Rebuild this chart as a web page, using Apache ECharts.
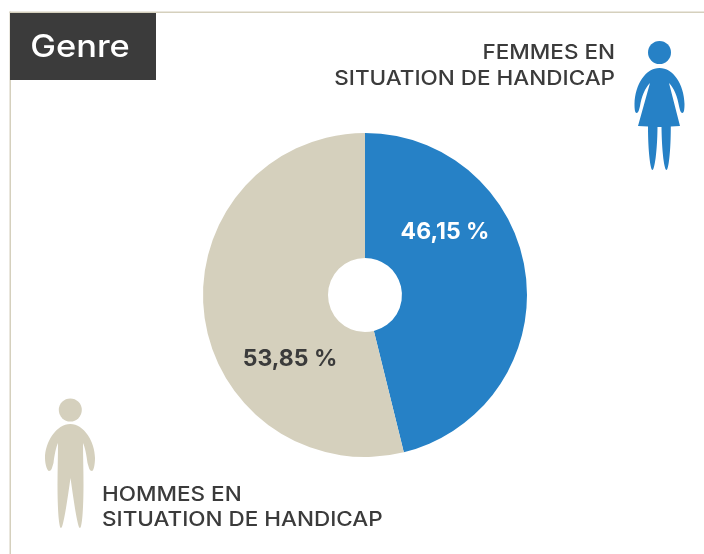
<!DOCTYPE html>
<html>
<head>
<meta charset="utf-8">
<style>html,body{margin:0;padding:0;background:#fff}#c{width:704px;height:554px}</style>
<script src="https://cdn.jsdelivr.net/npm/echarts@6/dist/echarts.min.js"></script>
</head>
<body>
<div id="c"></div>
<script>
const categories = ['Femmes en situation de handicap', 'Hommes en situation de handicap'];
const values = [46.15, 53.85];
const colors = ['#2681c6', '#d5d0bd'];
const labelColors = ['#ffffff', '#3b3b3b'];
const labelSpots = [[445, 232], [290, 359]];
const FONT = 'Inter, "DejaVu Sans", sans-serif';
const frame = '#d5d0bd';
const dark = '#3b3b3b';

const woman = 'M659.5 68 C673 68 684 84 684.5 104 C684.5 109 684 113 682.5 113 C680.5 113 680 110 679 106 C677.5 97 674 88 669 83 L680 126 L670.8 126.5 C670.8 152 668.5 170 666.5 170 C664.3 170 661.8 152 661.5 127 L657.5 127 C657.3 152 654.5 170 652.5 170 C650.5 170 648 152 648 126.5 L638 126 L650 83 C645 88 641.5 97 640 106 C639 110 638.5 113 636.5 113 C635 113 634.5 109 634.5 104 C635 84 646 68 659.5 68 Z';
const man = 'M70.3 424 C84 424 95 442 95 458 C95 465 93.5 471 92 471 C89.5 471 89 468 87.5 463 C86.5 455 85 447 83 443 C83 456 83.5 470 83.5 485 C83.5 510 82 528 80 528 C78 528 75 510 70.5 478 C66 510 63 528 61 528 C59 528 57.5 510 57.5 485 C57.5 470 58 456 58 443 C56 447 54.5 455 53.5 463 C52 468 51.5 471 49 471 C47.5 471 45 465 45 458 C45 442 56.5 424 70.3 424 Z';

echarts.graphic.registerShape('womanIcon', echarts.graphic.extendPath(woman));
echarts.graphic.registerShape('manIcon', echarts.graphic.extendPath(man));

const txt = (x, y, text, align, extra, sx) => ({
  type: 'text', x, y, scaleX: sx || 1.124,
  style: Object.assign({text, fill: dark, font: '500 20px ' + FONT, textAlign: align, textVerticalAlign: 'middle'}, extra || {})
});

const chart = echarts.init(document.getElementById('c'), null, {renderer: 'canvas'});
chart.setOption({
  animation: false,
  backgroundColor: '#ffffff',
  series: [{
    type: 'pie',
    center: [365, 295],
    radius: [37, 162],
    startAngle: 90,
    clockwise: true,
    silent: true,
    color: colors,
    data: categories.map((name, i) => ({
      name,
      value: values[i],
      label: {color: labelColors[i]}
    })),
    labelLayout: p => ({x: labelSpots[p.dataIndex][0], y: labelSpots[p.dataIndex][1], align: 'center', verticalAlign: 'middle'}),
    label: {
      show: true,
      position: 'inside',
      fontFamily: FONT,
      fontSize: 23,
      fontWeight: 700,
      formatter: p => p.value.toFixed(2).replace('.', ',') + ' %'
    },
    labelLine: {show: false}
  }],
  graphic: [
    {type: 'rect', shape: {x: 9.5, y: 11.5, width: 695, height: 1.5}, style: {fill: frame}},
    {type: 'rect', shape: {x: 9.5, y: 11.5, width: 1.5, height: 543}, style: {fill: frame}},
    {type: 'rect', shape: {x: 10, y: 13, width: 146, height: 67}, style: {fill: dark}},
    txt(80, 48, 'Genre', 'center', {fill: '#ffffff', font: '500 31px ' + FONT}, 1.11),
    txt(615, 53, 'FEMMES EN', 'right'),
    txt(615, 79, 'SITUATION DE HANDICAP', 'right'),
    txt(102, 495, 'HOMMES EN', 'left'),
    txt(102, 520, 'SITUATION DE HANDICAP', 'left'),
    {type: 'circle', shape: {cx: 659.5, cy: 52.5, r: 11.5}, style: {fill: colors[0]}},
    {type: 'womanIcon', style: {fill: colors[0]}},
    {type: 'circle', shape: {cx: 70.3, cy: 410, r: 11.5}, style: {fill: colors[1]}},
    {type: 'manIcon', style: {fill: colors[1]}}
  ]
});
</script>
</body>
</html>
